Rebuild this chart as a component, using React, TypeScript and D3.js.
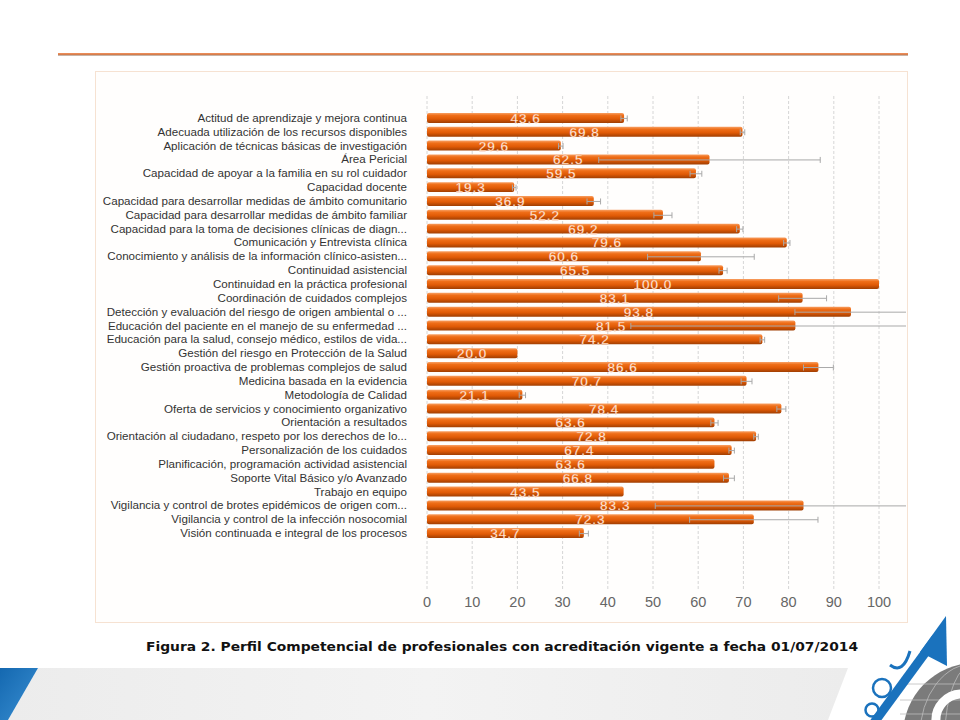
import * as d3 from "d3";
import React from "react";

// competencias (orden del gráfico, de arriba a abajo)
const categories = [
  "Actitud de aprendizaje y mejora continua",
  "Adecuada utilización de los recursos disponibles",
  "Aplicación de técnicas básicas de investigación",
  "Área Pericial",
  "Capacidad de apoyar a la familia en su rol cuidador",
  "Capacidad docente",
  "Capacidad para desarrollar medidas de ámbito comunitario",
  "Capacidad para desarrollar medidas de ámbito familiar",
  "Capacidad para la toma de decisiones clínicas de diagn...",
  "Comunicación y Entrevista clínica",
  "Conocimiento y análisis de la información clínico-asisten...",
  "Continuidad asistencial",
  "Continuidad en la práctica profesional",
  "Coordinación de cuidados complejos",
  "Detección y evaluación del riesgo de origen ambiental o ...",
  "Educación del paciente en el manejo de su enfermedad ...",
  "Educación para la salud, consejo médico, estilos de vida...",
  "Gestión del riesgo en Protección de la Salud",
  "Gestión proactiva de problemas complejos de salud",
  "Medicina basada en la evidencia",
  "Metodología de Calidad",
  "Oferta de servicios y conocimiento organizativo",
  "Orientación a resultados",
  "Orientación al ciudadano, respeto por los derechos de lo...",
  "Personalización de los cuidados",
  "Planificación, programación actividad asistencial",
  "Soporte Vital Básico y/o Avanzado",
  "Trabajo en equipo",
  "Vigilancia y control de brotes epidémicos de origen com...",
  "Vigilancia y control de la infección nosocomial",
  "Visión continuada e integral de los procesos",
];

const values = [
  43.6, 69.8, 29.6, 62.5, 59.5, 19.3, 36.9, 52.2, 69.2, 79.6, 60.6, 65.5, 100.0,
  83.1, 93.8, 81.5, 74.2, 20.0, 86.6, 70.7, 21.1, 78.4, 63.6, 72.8, 67.4, 63.6,
  66.8, 43.5, 83.3, 72.3, 34.7,
];

// semiamplitud de las barras de error
const errors = [
  0.7, 0.5, 0.5, 24.5, 1.3, 0.4, 1.5, 2.0, 0.7, 0.7, 11.8, 0.9, 0, 5.3, 12.4,
  36.4, 0.5, 0, 3.3, 1.2, 0.7, 1.0, 0.8, 0.5, 0.6, 0, 1.2, 0, 32.8, 14.2, 1.0,
];

const xTicks = [0, 10, 20, 30, 40, 50, 60, 70, 80, 90, 100];

const caption =
  "Figura 2. Perfil Competencial de profesionales con acreditación vigente a fecha 01/07/2014";

const W = 960;
const H = 720;

export default function App() {
  const x = d3.scaleLinear().domain([0, 100]).range([427, 879]);
  const y = d3
    .scaleBand<string>()
    .domain(categories)
    .range([111, 540])
    .paddingInner(0.28)
    .paddingOuter(0.14);
  const bh = y.bandwidth();
  const plotRight = 906;

  const labelFont = "'Liberation Sans', Arial, sans-serif";

  return (
    <svg
      width={W}
      height={H}
      style={{ position: "absolute", left: 0, top: 0, background: "#fff" }}
    >
      <defs>
        <linearGradient id="barGrad" x1="0" y1="0" x2="0" y2="1">
          <stop offset="0" stopColor="#f8a064" />
          <stop offset="0.25" stopColor="#ef6e18" />
          <stop offset="0.6" stopColor="#e05a06" />
          <stop offset="1" stopColor="#a03e02" />
        </linearGradient>
        <linearGradient id="blueGrad" x1="0" y1="0" x2="1" y2="1">
          <stop offset="0" stopColor="#1468b0" />
          <stop offset="1" stopColor="#3a8fd2" />
        </linearGradient>
        <linearGradient id="bandGrad" x1="0" y1="0" x2="1" y2="0">
          <stop offset="0" stopColor="#ececec" />
          <stop offset="0.5" stopColor="#f3f3f3" />
          <stop offset="1" stopColor="#ececec" />
        </linearGradient>
        <clipPath id="plotClip">
          <rect x={96} y={72} width={plotRight - 96} height={549} />
        </clipPath>
        <clipPath id="pageClip">
          <rect x={0} y={0} width={W} height={H} />
        </clipPath>
      </defs>

      {/* línea superior */}
      <line x1={58} x2={908} y1={54} y2={54} stroke="#e2651f" strokeWidth={1.4} />
      <line x1={58} x2={908} y1={55.2} y2={55.2} stroke="#7a4a2c" strokeWidth={0.6} />

      {/* panel */}
      <rect x={95.5} y={71.5} width={812} height={551} fill="#fffefd" stroke="#f6e2d2" />

      {/* rejilla */}
      {xTicks.map((t) => (
        <line
          key={"g" + t}
          x1={x(t)}
          x2={x(t)}
          y1={96}
          y2={590}
          stroke="#d6d6d6"
          strokeDasharray="3,2"
        />
      ))}

      {/* etiquetas del eje x */}
      {xTicks.map((t) => (
        <text
          key={"t" + t}
          x={x(t)}
          y={607}
          textAnchor="middle"
          fontFamily={labelFont}
          fontSize={14.5}
          fill="#666"
        >
          {t}
        </text>
      ))}

      {/* categorías */}
      {categories.map((c) => (
        <text
          key={"c" + c}
          x={407}
          y={y(c)! + bh / 2 + 4}
          textAnchor="end"
          fontFamily={labelFont}
          fontSize={11.6}
          fill="#333"
        >
          {c}
        </text>
      ))}

      {/* barras */}
      {categories.map((c, i) => (
        <rect
          key={"b" + c}
          x={x(0)}
          y={y(c)!}
          width={x(values[i]) - x(0)}
          height={bh}
          rx={2}
          fill="url(#barGrad)"
        />
      ))}

      {/* valores */}
      {categories.map((c, i) => (
        <text
          key={"v" + c}
          x={(x(0) + x(values[i])) / 2}
          y={y(c)! + bh / 2 + 5}
          textAnchor="middle"
          fontFamily={labelFont}
          fontSize={13.5}
          letterSpacing={1}
          fill="#fff"
          stroke="#f39a5e"
          strokeWidth={0.3}
        >
          {values[i].toFixed(1)}
        </text>
      ))}

      {/* barras de error */}
      <g clipPath="url(#plotClip)" stroke="#a9a9a9" strokeWidth={1} fill="none">
        {categories.map((c, i) => {
          if (!errors[i]) return null;
          const cy = y(c)! + bh / 2 + 0.5;
          const lo = x(values[i] - errors[i]);
          const hi = x(values[i] + errors[i]);
          return (
            <g key={"e" + c}>
              <line x1={lo} x2={hi} y1={cy} y2={cy} />
              <line x1={lo} x2={lo} y1={cy - 3} y2={cy + 3} />
              <line x1={hi} x2={hi} y1={cy - 3} y2={cy + 3} />
            </g>
          );
        })}
      </g>

      {/* pie de figura */}
      <text
        x={502}
        y={651}
        textAnchor="middle"
        fontFamily="'DejaVu Sans', Verdana, sans-serif"
        fontWeight="bold"
        fontSize={13}
        textLength={712}
        lengthAdjust="spacingAndGlyphs"
        fill="#111"
      >
        {caption}
      </text>

      {/* decoración inferior */}
      <g clipPath="url(#pageClip)">
        <polygon points="38,668 848,668 828,720 8,720" fill="url(#bandGrad)" />
        <polygon points="0,668 38,668 8,720 0,720" fill="url(#blueGrad)" />
        <circle cx={975} cy={735} r={72} fill="#7b7b7b" />
        <g stroke="#bdbdbd" strokeWidth={0.8} fill="none">
          <ellipse cx={975} cy={735} rx={30} ry={72} />
          <ellipse cx={975} cy={735} rx={55} ry={72} />
          <line x1={900} x2={1050} y1={700} y2={700} />
          <line x1={900} x2={1050} y1={684} y2={684} />
          <line x1={900} x2={1050} y1={714} y2={714} />
        </g>
        <path d="M 936 722 A 26 26 0 0 1 962 694" stroke="#fff" strokeWidth={9} fill="none" />
        <line x1={873} y1={724} x2={936} y2={638} stroke="#1a72bd" strokeWidth={9} />
        <polygon points="946,616 947,666 920,652" fill="#1a72bd" />
        <circle cx={882} cy={688} r={9} fill="none" stroke="#1a72bd" strokeWidth={2.5} />
        <circle cx={872} cy={710} r={6.5} fill="none" stroke="#1a72bd" strokeWidth={2.5} />
        <path d="M 890 665 Q 903 675 910 651" fill="none" stroke="#1a72bd" strokeWidth={3} />
      </g>
    </svg>
  );
}
